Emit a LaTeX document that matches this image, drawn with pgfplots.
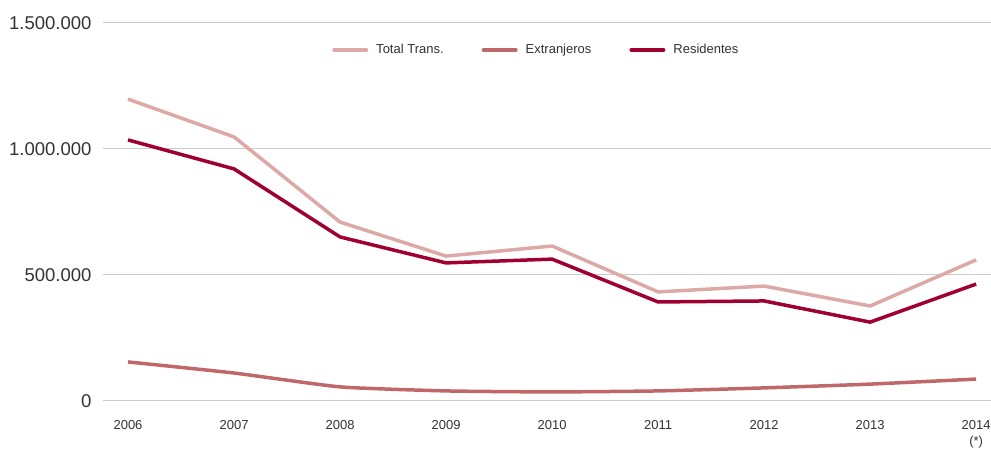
\documentclass[border=0pt]{standalone}
\usepackage{pgfplots}
\pgfplotsset{compat=1.18}
\usepackage{fontspec}
\setmainfont{Liberation Sans}
\definecolor{ctotal}{HTML}{DDA9A6}
\definecolor{cextr}{HTML}{C0676A}
\definecolor{cres}{HTML}{A0002F}
\definecolor{cgrid}{HTML}{CCCCCC}
\definecolor{ctext}{HTML}{333333}
\begin{document}
\begin{tikzpicture}
\useasboundingbox (-103pt,-48pt) rectangle (888pt,401pt);
\begin{axis}[
  at={(0pt,0pt)}, anchor=south west,
  scale only axis,
  width=888pt, height=378pt,
  xmin=-0.236, xmax=8.14,
  ymin=0, ymax=1500000,
  xtick={0,...,8},
  xticklabels={2006,2007,2008,2009,2010,2011,2012,2013,{2014\\(*)}},
  xticklabel style={align=center, font=\fontsize{13}{16}\selectfont, text=ctext, yshift=-16pt, anchor=north},
  ytick={0,500000,1000000,1500000},
  yticklabels={0,500.000,1.000.000,1.500.000},
  yticklabel style={font=\fontsize{18.5}{18.5}\selectfont, text=ctext, xshift=-8pt},
  scaled y ticks=false,
  axis line style={draw=none},
  tick style={draw=none},
  ymajorgrids,
  major grid style={cgrid, line width=1pt},
  legend style={draw=none, at={(0.488,0.9286)}, anchor=center, legend columns=3,
    font=\fontsize{13}{13}\selectfont, text=ctext,
    /tikz/every odd column/.append style={column sep=6pt},
    /tikz/every even column/.append style={column sep=36pt}},
  legend image code/.code={\draw[#1, line width=4pt, line cap=round] (0pt,0pt) -- (32pt,0pt);},
  clip=false,
]
\addplot[ctotal, line width=3.5pt, line join=round] coordinates {
(0,1198000) (1,1048000) (2,710000) (3,575000) (4,615000) (5,433000) (6,456000) (7,377000) (8,560000)};
\addlegendentry{Total Trans.}
\addplot[cextr, line width=3.5pt, line join=round, smooth, tension=0.3] coordinates {
(0,155000) (1,111000) (2,56000) (3,40000) (4,36000) (5,40000) (6,52000) (7,67000) (8,87000)};
\addlegendentry{Extranjeros}
\addplot[cres, line width=3.5pt, line join=round] coordinates {
(0,1036000) (1,921000) (2,651000) (3,548000) (4,563000) (5,393000) (6,397000) (7,313000) (8,464000)};
\addlegendentry{Residentes}
\end{axis}
\end{tikzpicture}
\end{document}
